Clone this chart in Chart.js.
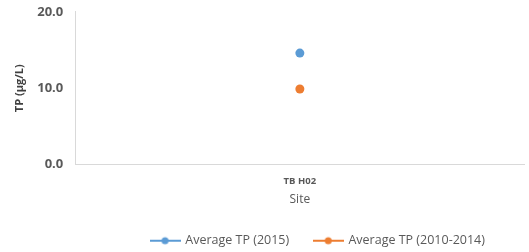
<!DOCTYPE html>
<html>
<head>
<meta charset="utf-8">
<script src="https://cdn.jsdelivr.net/npm/chart.js@4"></script>
<style>
  html, body { margin: 0; padding: 0; background: #fff; }
  #wrap { width: 529px; height: 252px; }
</style>
</head>
<body>
<div id="wrap"><canvas id="c"></canvas></div>
<script>
const sites = ['TB H02'];
const avg2015 = [14.6];
const avg2010to2014 = [9.9];
const seriesNames = ['Average TP (2015)', 'Average TP (2010-2014)'];
const colors = ['#5b9bd5', '#ed7d31'];

// legend marker: a short line with a dot in the middle
function marker(color) {
  const cv = document.createElement('canvas');
  cv.width = 31; cv.height = 10;
  const g = cv.getContext('2d');
  g.strokeStyle = color; g.lineWidth = 2;
  g.beginPath(); g.moveTo(0, 5); g.lineTo(31, 5); g.stroke();
  g.fillStyle = color;
  g.beginPath(); g.arc(15.5, 5, 3.5, 0, Math.PI * 2); g.fill();
  return cv;
}

// legend sits a little tighter to the bottom and a bit right of centre
const legendFit = {
  id: 'legendFit',
  beforeInit(chart) {
    const lg = chart.legend;
    const fit = lg.fit;
    lg.fit = function () { fit.call(this); this.height -= 5; };
  },
  afterLayout(chart) {
    chart.legend.left += 49;
    chart.legend.right += 49;
  }
};

const ctx = document.getElementById('c');
new Chart(ctx, {
  type: 'line',
  data: {
    labels: sites,
    datasets: [
      { label: seriesNames[0], data: avg2015, backgroundColor: colors[0], borderColor: colors[0],
        showLine: false, pointRadius: 4.5, pointHoverRadius: 4.5, pointBorderWidth: 0 },
      { label: seriesNames[1], data: avg2010to2014, backgroundColor: colors[1], borderColor: colors[1],
        showLine: false, pointRadius: 4.5, pointHoverRadius: 4.5, pointBorderWidth: 0 }
    ]
  },
  plugins: [legendFit],
  options: {
    responsive: true,
    maintainAspectRatio: false,
    animation: false,
    layout: { padding: { top: 2, right: 0, left: 9, bottom: 0 } },
    plugins: {
      tooltip: { enabled: false },
      legend: {
        position: 'bottom',
        labels: {
          usePointStyle: true,
          pointStyleWidth: 28,
          font: { family: 'Open Sans', size: 12.5 },
          color: '#595959',
          padding: 25,
          generateLabels: (chart) => chart.data.datasets.map((d, i) => ({
            text: d.label,
            pointStyle: marker(colors[i]),
            fillStyle: colors[i],
            strokeStyle: colors[i],
            fontColor: '#595959',
            lineWidth: 0,
            datasetIndex: i
          }))
        }
      }
    },
    scales: {
      x: {
        offset: true,
        grid: { display: false },
        border: { display: true, color: '#d9d9d9' },
        ticks: { color: '#595959', padding: 3, font: { family: 'Open Sans', size: 9.5, weight: 'bold' } },
        title: { display: true, text: 'Site', color: '#595959', padding: { top: 2, bottom: 3 },
                 font: { family: 'Open Sans', size: 12 } }
      },
      y: {
        min: 0, max: 20,
        grid: { display: false },
        border: { display: true, color: '#d9d9d9' },
        ticks: { stepSize: 10, color: '#595959', padding: 4,
                 font: { family: 'Open Sans', size: 13, weight: 'bold' },
                 callback: (v) => v.toFixed(1) },
        title: { display: true, text: 'TP (µg/L)', color: '#404040', padding: { top: 4, bottom: 7 },
                 font: { family: 'Open Sans', size: 11, weight: 'bold' } }
      }
    }
  }
});
</script>
</body>
</html>
